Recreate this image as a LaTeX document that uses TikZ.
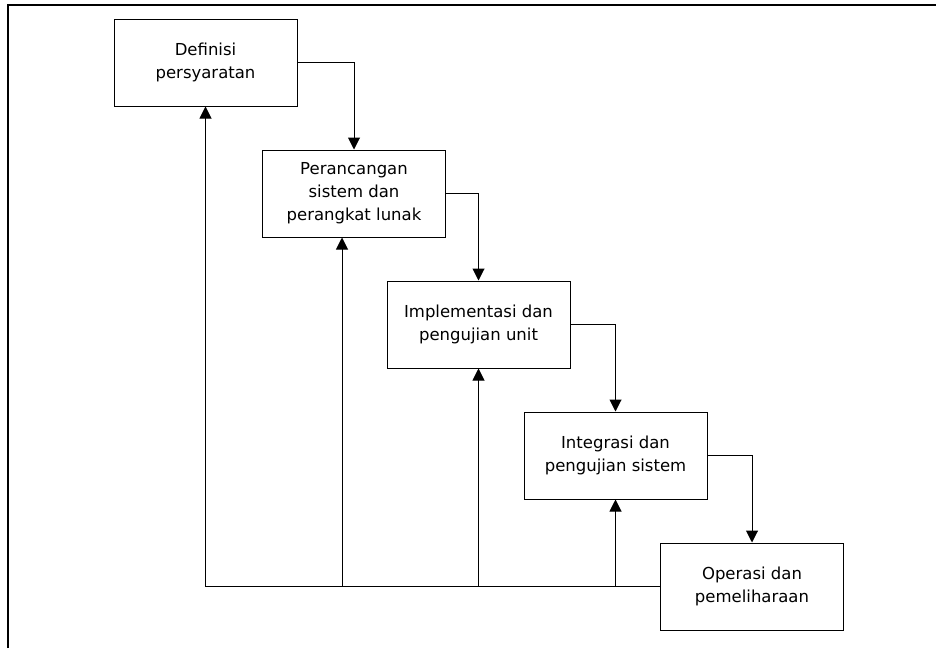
\documentclass[tikz,border=0pt]{standalone}
\usepackage{fontspec}
\setmainfont{DejaVu Sans}
\usetikzlibrary{arrows.meta}
\begin{document}
\begin{tikzpicture}[x=1pt,y=-1pt,
  tahap/.style={draw, line width=1pt, minimum width=183pt, minimum height=87pt,
    inner sep=0pt, align=center, font=\fontsize{16.5}{23}\selectfont},
  panah/.style={line width=1pt, -{Triangle[width=12pt,length=12pt]}}]
\useasboundingbox (0,0) rectangle (936,648);
\draw[line width=2pt] (8,648) -- (8,5) -- (936,5);
\node[tahap] (1) at (205.5,62.5) {Definisi\\persyaratan};
\node[tahap] (2) at (354,193.5) {Perancangan\\sistem dan\\perangkat lunak};
\node[tahap] (3) at (478.5,324.5) {Implementasi dan\\pengujian unit};
\node[tahap] (4) at (615.5,455.5) {Integrasi dan\\pengujian sistem};
\node[tahap] (5) at (752,586.5) {Operasi dan\\pemeliharaan};
% turun
\draw[panah] (1.east) -| (2.north);
\draw[panah] (2.east) -| (3.north);
\draw[panah] (3.east) -| (4.north);
\draw[panah] (4.east) -| (5.north);
% umpan balik
\draw[panah] (5.west) -- (1.south |- 5.west) -- (1.south);
\draw[panah] ([xshift=-12pt]2.south |- 5.west) -- ([xshift=-12pt]2.south);
\draw[panah] (3.south |- 5.west) -- (3.south);
\draw[panah] (4.south |- 5.west) -- (4.south);
\end{tikzpicture}
\end{document}
